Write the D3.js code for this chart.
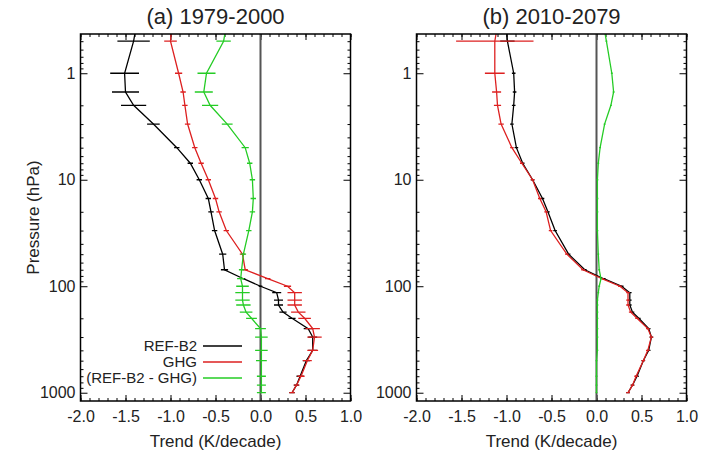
<!DOCTYPE html>
<html>
<head>
<meta charset="utf-8">
<title>Temperature trend profiles</title>
<script src="https://d3js.org/d3.v7.min.js"></script>
<style>
    body { margin: 0; background: #fff; }
    text { font-family: "Liberation Sans", Arial, sans-serif; fill: #222; }
</style>
</head>
<body>
<div id="chart"></div>
<script>
// pressure levels (hPa), top to bottom
var levels = [0.4, 0.5, 1, 1.5, 2, 3, 5, 7, 10, 15, 20, 30, 50, 70, 85, 100, 115, 135, 150, 175, 200, 250, 300, 400, 500, 700, 850, 1000];

// (a) 1979-2000 trends (K/decade) and error half-widths
var refA    = [-1.39, -1.41, -1.51, -1.50, -1.41, -1.19, -0.93, -0.78, -0.68, -0.58, -0.55, -0.51, -0.42, -0.40, -0.19, 0.00, 0.18, 0.20, 0.20, 0.25, 0.35, 0.53, 0.58, 0.58, 0.51, 0.44, 0.40, 0.35];
var refAErr = [0.18, 0.18, 0.16, 0.15, 0.14, 0.07, 0.03, 0.03, 0.03, 0.03, 0.03, 0.03, 0.04, 0.04, 0.02, 0.02, 0.05, 0.05, 0.05, 0.04, 0.04, 0.05, 0.05, 0.05, 0.04, 0.04, 0.03, 0.03];
var ghgA    = [-0.99, -1.00, -0.91, -0.86, -0.84, -0.81, -0.73, -0.66, -0.58, -0.50, -0.46, -0.38, -0.20, -0.17, 0.08, 0.30, 0.38, 0.38, 0.38, 0.42, 0.49, 0.58, 0.60, 0.58, 0.52, 0.45, 0.40, 0.35];
var ghgAErr = [0.07, 0.07, 0.04, 0.03, 0.03, 0.03, 0.03, 0.03, 0.03, 0.03, 0.03, 0.03, 0.03, 0.03, 0.03, 0.04, 0.08, 0.08, 0.08, 0.08, 0.07, 0.08, 0.08, 0.06, 0.05, 0.04, 0.03, 0.03];
var difA    = [-0.39, -0.41, -0.60, -0.63, -0.56, -0.37, -0.17, -0.12, -0.09, -0.08, -0.09, -0.13, -0.19, -0.21, -0.22, -0.20, -0.20, -0.20, -0.19, -0.16, -0.10, 0.00, 0.01, 0.01, 0.01, 0.01, 0.01, 0.01];
var difAErr = [0.08, 0.08, 0.10, 0.10, 0.09, 0.06, 0.04, 0.03, 0.03, 0.03, 0.03, 0.03, 0.03, 0.03, 0.04, 0.07, 0.08, 0.08, 0.08, 0.07, 0.06, 0.06, 0.07, 0.07, 0.06, 0.05, 0.05, 0.05];

// (b) 2010-2079
var refB    = [-1.00, -0.99, -0.92, -0.91, -0.92, -0.94, -0.89, -0.82, -0.71, -0.60, -0.54, -0.46, -0.31, -0.13, 0.08, 0.28, 0.37, 0.37, 0.37, 0.40, 0.47, 0.58, 0.61, 0.58, 0.52, 0.45, 0.40, 0.35];
var refBErr = [0.08, 0.08, 0.02, 0.02, 0.02, 0.02, 0.02, 0.02, 0.02, 0.02, 0.02, 0.02, 0.02, 0.02, 0.02, 0.02, 0.02, 0.02, 0.02, 0.02, 0.02, 0.02, 0.02, 0.02, 0.02, 0.02, 0.02, 0.02];
var ghgB    = [-1.11, -1.13, -1.13, -1.11, -1.10, -1.06, -0.94, -0.83, -0.71, -0.63, -0.56, -0.51, -0.33, -0.15, 0.06, 0.26, 0.35, 0.35, 0.35, 0.38, 0.45, 0.57, 0.61, 0.57, 0.52, 0.44, 0.40, 0.35];
var ghgBErr = [0.43, 0.43, 0.11, 0.05, 0.04, 0.03, 0.02, 0.02, 0.02, 0.02, 0.02, 0.02, 0.02, 0.02, 0.02, 0.02, 0.02, 0.02, 0.02, 0.02, 0.02, 0.02, 0.02, 0.02, 0.02, 0.02, 0.02, 0.02];
var difB    = [0.09, 0.11, 0.17, 0.19, 0.16, 0.09, 0.04, 0.02, 0.01, 0.01, 0.01, 0.01, 0.02, 0.03, 0.05, 0.03, 0.02, 0.01, 0.01, 0.01, 0.01, 0.01, 0.01, 0.01, 0.00, 0.00, 0.00, 0.00];
var difBErr = [0.01, 0.01, 0.01, 0.01, 0.01, 0.01, 0.01, 0.01, 0.01, 0.01, 0.01, 0.01, 0.01, 0.01, 0.01, 0.01, 0.01, 0.01, 0.01, 0.01, 0.01, 0.01, 0.01, 0.01, 0.01, 0.01, 0.01, 0.01];

var xTicks = [-2.0, -1.5, -1.0, -0.5, 0.0, 0.5, 1.0];
var yTicks = [1, 10, 100, 1000];
var seriesNames = ["REF-B2", "GHG", "(REF-B2 - GHG)"];
var colors = ["#000000", "#dd2020", "#25cc25"];

var W = 701, H = 451;
var pw = 270, ph = 367, plotTop = 34;
var pTop = 0.428, pBottom = 1196;

var svg = d3.select("#chart").append("svg")
    .attr("width", W)
    .attr("height", H);

var x = d3.scaleLinear().domain([-2, 1]).range([0, pw]);
var y = d3.scaleLog().domain([pTop, pBottom]).range([0, ph]);

// minor log ticks
var yMinor = [];
[0.1, 1, 10, 100].forEach(function (dec) {
    for (var k = 2; k <= 9; k++) {
        var v = k * dec;
        if (v >= pTop && v <= pBottom) yMinor.push(v);
    }
});
var xMinor = d3.range(-20, 11).map(function (d) { return d / 10; });

function drawPanel(left, title, id, series, showLegend) {
    var g = svg.append("g").attr("transform", "translate(" + left + "," + plotTop + ")");

    g.append("clipPath").attr("id", "clip" + id)
        .append("rect").attr("width", pw).attr("height", ph);

    // axes (ticks pointing inward, on all four sides)
    var fmtX = function (d) { return d.toFixed(1); };
    g.append("g").attr("class", "axis").attr("transform", "translate(0," + ph + ")")
        .call(d3.axisBottom(x).tickValues(xTicks).tickFormat(fmtX).tickSize(-6).tickPadding(10));
    g.append("g").attr("class", "axis minor").attr("transform", "translate(0," + ph + ")")
        .call(d3.axisBottom(x).tickValues(xMinor).tickFormat("").tickSize(-3));
    g.append("g").attr("class", "axis")
        .call(d3.axisTop(x).tickValues(xTicks).tickFormat("").tickSize(-6));
    g.append("g").attr("class", "axis minor")
        .call(d3.axisTop(x).tickValues(xMinor).tickFormat("").tickSize(-3));

    g.append("g").attr("class", "axis")
        .call(d3.axisLeft(y).tickValues(yTicks).tickFormat(d3.format("d")).tickSize(-7).tickPadding(5));
    g.append("g").attr("class", "axis minor")
        .call(d3.axisLeft(y).tickValues(yMinor).tickFormat("").tickSize(-3));
    g.append("g").attr("class", "axis").attr("transform", "translate(" + pw + ",0)")
        .call(d3.axisRight(y).tickValues(yTicks).tickFormat("").tickSize(-7));
    g.append("g").attr("class", "axis minor").attr("transform", "translate(" + pw + ",0)")
        .call(d3.axisRight(y).tickValues(yMinor).tickFormat("").tickSize(-3));

    g.selectAll(".axis .domain").remove();
    g.selectAll(".axis line").attr("stroke", "#000").attr("stroke-width", 1);
    g.selectAll(".axis text").attr("font-size", 16).attr("fill", "#222")
        .attr("font-family", "'Liberation Sans', Arial, sans-serif");

    // zero line
    g.append("line")
        .attr("x1", x(0)).attr("x2", x(0))
        .attr("y1", 0).attr("y2", ph)
        .attr("stroke", "#555").attr("stroke-width", 2);

    var plot = g.append("g").attr("clip-path", "url(#clip" + id + ")");
    var line = d3.line()
        .x(function (d) { return x(d.v); })
        .y(function (d) { return y(d.p); });

    series.forEach(function (s, i) {
        var pts = levels.map(function (p, j) { return { p: p, v: s.vals[j], e: s.errs[j] }; });
        plot.append("path")
            .datum(pts)
            .attr("fill", "none")
            .attr("stroke", colors[i])
            .attr("stroke-width", 1.3)
            .attr("d", line);
        plot.selectAll(".err" + i)
            .data(pts.slice(1))
            .enter().append("line")
            .attr("class", "err" + i)
            .attr("x1", function (d) { return x(d.v - d.e); })
            .attr("x2", function (d) { return x(d.v + d.e); })
            .attr("y1", function (d) { return y(d.p); })
            .attr("y2", function (d) { return y(d.p); })
            .attr("stroke", colors[i])
            .attr("stroke-width", 1.3);
    });

    // frame
    g.append("rect")
        .attr("width", pw).attr("height", ph)
        .attr("fill", "none").attr("stroke", "#000").attr("stroke-width", 1.5);

    g.append("text")
        .attr("x", pw / 2).attr("y", -10)
        .attr("text-anchor", "middle")
        .attr("font-size", 22)
        .text(title);

    g.append("text")
        .attr("x", pw / 2).attr("y", ph + 46)
        .attr("text-anchor", "middle")
        .attr("font-size", 17)
        .text("Trend (K/decade)");

    if (showLegend) {
        var leg = g.append("g").attr("transform", "translate(116.5," + (ph - 55) + ")");
        seriesNames.forEach(function (name, i) {
            var row = leg.append("g").attr("transform", "translate(0," + (i * 16) + ")");
            row.append("text")
                .attr("x", 0).attr("y", 5)
                .attr("text-anchor", "end")
                .attr("font-size", 15)
                .text(name);
            row.append("line")
                .attr("x1", 6).attr("x2", 45)
                .attr("y1", 0).attr("y2", 0)
                .attr("stroke", colors[i]).attr("stroke-width", 1.5);
        });
    }
    return g;
}

drawPanel(80.5, "(a) 1979-2000", "a", [
    { vals: refA, errs: refAErr },
    { vals: ghgA, errs: ghgAErr },
    { vals: difA, errs: difAErr }
], true);

drawPanel(416.5, "(b) 2010-2079", "b", [
    { vals: refB, errs: refBErr },
    { vals: ghgB, errs: ghgBErr },
    { vals: difB, errs: difBErr }
], false);

svg.append("text")
    .attr("transform", "translate(39," + (plotTop + ph / 2) + ") rotate(-90)")
    .attr("text-anchor", "middle")
    .attr("font-size", 17)
    .text("Pressure (hPa)");
</script>
</body>
</html>
